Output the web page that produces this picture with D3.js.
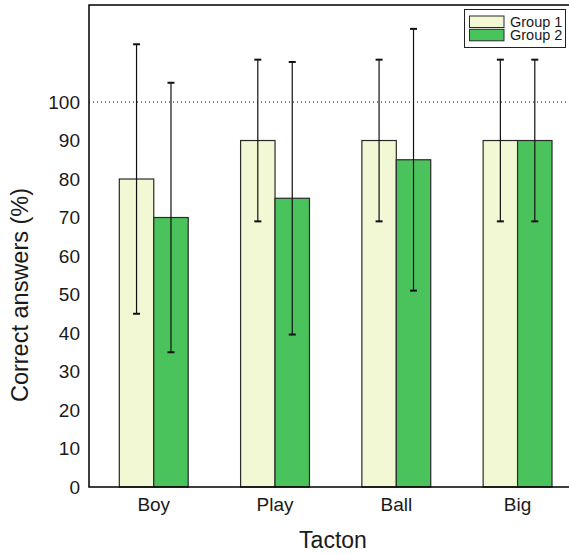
<!DOCTYPE html>
<html>
<head>
<meta charset="utf-8">
<script src="https://cdn.jsdelivr.net/npm/d3@7"></script>
<style>
  body { margin: 0; background: #fff; }
  svg { display: block; font-family: "Liberation Sans", Arial, sans-serif; }
</style>
</head>
<body>
<svg width="569" height="554"></svg>
<script>
// data
var categories = ["Boy", "Play", "Ball", "Big"];
var groups = ["Group 1", "Group 2"];
var group1 = [80, 90, 90, 90];
var group2 = [70, 75, 85, 90];
var group1Err = [35, 21, 21, 21];
var group2Err = [35, 35.4, 34, 21];
var yTicks = [0, 10, 20, 30, 40, 50, 60, 70, 80, 90, 100];
var colours = ["#f2f7d4", "#4ac35c"];

var svg = d3.select("svg");

// plot area (right side runs off the picture)
var plotLeft = 89, plotTop = 5, plotBottom = 487, plotRight = 577;

var x = d3.scaleLinear().domain([0.466, 4.49]).range([plotLeft, plotRight]);
var y = d3.scaleLinear().domain([0, 125.2]).range([plotBottom, plotTop]);
var barW = x(1.284) - x(1);

var rows = categories.map(function (c, i) {
    return [
        { cat: i + 1, g: 0, v: group1[i], e: group1Err[i] },
        { cat: i + 1, g: 1, v: group2[i], e: group2Err[i] }
    ];
}).flat();

// dotted 100% reference line
svg.append("line")
    .attr("x1", plotLeft).attr("x2", plotRight)
    .attr("y1", y(100)).attr("y2", y(100))
    .attr("stroke", "#000")
    .attr("stroke-width", 1)
    .attr("stroke-dasharray", "1,3");

// bars
svg.append("g")
    .selectAll("rect")
    .data(rows)
    .enter().append("rect")
    .attr("x", d => x(d.cat) - (d.g == 0 ? barW : 0))
    .attr("y", d => y(d.v))
    .attr("width", barW)
    .attr("height", d => y(0) - y(d.v))
    .attr("fill", d => colours[d.g])
    .attr("stroke", "#2a2a2a")
    .attr("stroke-width", 1.2);

// error bars
var err = svg.append("g").selectAll("g")
    .data(rows)
    .enter().append("g")
    .attr("stroke", "#111")
    .attr("stroke-width", 1.2);
var cx = d => x(d.cat) + (d.g == 0 ? -barW / 2 : barW / 2);
err.append("line")
    .attr("x1", cx).attr("x2", cx)
    .attr("y1", d => y(d.v + d.e)).attr("y2", d => y(d.v - d.e));
err.append("line")
    .attr("x1", d => cx(d) - 3.5).attr("x2", d => cx(d) + 3.5)
    .attr("y1", d => y(d.v + d.e)).attr("y2", d => y(d.v + d.e))
    .attr("stroke-width", 2);
err.append("line")
    .attr("x1", d => cx(d) - 3.5).attr("x2", d => cx(d) + 3.5)
    .attr("y1", d => y(d.v - d.e)).attr("y2", d => y(d.v - d.e))
    .attr("stroke-width", 2);

// frame
svg.append("path")
    .attr("d", "M" + plotRight + "," + plotTop + "H" + plotLeft + "V" + plotBottom + "H" + plotRight)
    .attr("fill", "none")
    .attr("stroke", "#000")
    .attr("stroke-width", 1.5);

// y axis labels
svg.append("g")
    .selectAll("text")
    .data(yTicks)
    .enter().append("text")
    .attr("x", 80)
    .attr("y", d => y(d))
    .attr("dy", "0.35em")
    .attr("text-anchor", "end")
    .attr("font-size", 19)
    .attr("fill", "#1a1a1a")
    .text(d => d);

// x axis labels
svg.append("g")
    .selectAll("text")
    .data(categories)
    .enter().append("text")
    .attr("x", (d, i) => x(i + 1))
    .attr("y", 511)
    .attr("text-anchor", "middle")
    .attr("font-size", 19)
    .attr("fill", "#1a1a1a")
    .text(d => d);

// axis titles
svg.append("text")
    .attr("x", 333).attr("y", 548)
    .attr("text-anchor", "middle")
    .attr("font-size", 23)
    .attr("fill", "#1a1a1a")
    .text("Tacton");

svg.append("text")
    .attr("transform", "translate(28,295) rotate(-90)")
    .attr("text-anchor", "middle")
    .attr("font-size", 23.5)
    .attr("fill", "#1a1a1a")
    .text("Correct answers (%)");

// legend
var legend = svg.append("g");
legend.append("rect")
    .attr("x", 464.5).attr("y", 9.5)
    .attr("width", 101).attr("height", 38)
    .attr("fill", "#fff")
    .attr("stroke", "#222")
    .attr("stroke-width", 1);
var item = legend.selectAll("g.item")
    .data(groups)
    .enter().append("g")
    .attr("class", "item");
item.append("rect")
    .attr("x", 469.5)
    .attr("y", (d, i) => 16 + i * 13.3)
    .attr("width", 34.5)
    .attr("height", 11.5)
    .attr("fill", (d, i) => colours[i])
    .attr("stroke", "#2a2a2a")
    .attr("stroke-width", 1);
item.append("text")
    .attr("x", 510)
    .attr("y", (d, i) => 26.5 + i * 13.3)
    .attr("font-size", 14.5)
    .attr("fill", "#1a1a1a")
    .text(d => d);
</script>
</body>
</html>
